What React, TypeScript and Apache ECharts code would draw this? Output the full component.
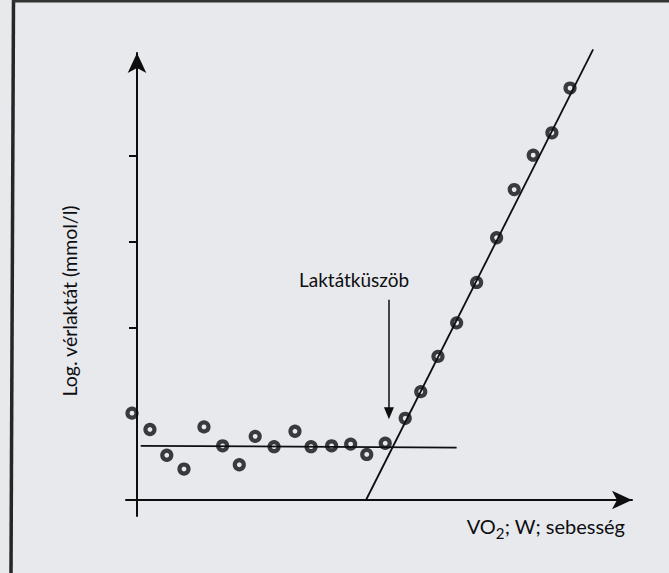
import React, { useEffect, useRef } from "react";
import * as echarts from "echarts";

// Measured points (x: arbitrary load units, y: log blood lactate units)
const pointX = [-0.27, 0.7, 1.61, 2.54, 3.62, 4.63, 5.53, 6.39, 7.41, 8.54, 9.41, 10.52, 11.55, 12.42, 13.42, 14.5, 15.34, 16.27, 17.28, 18.36, 19.44, 20.39, 21.42, 22.43, 23.41];
const pointY = [1.01, 0.82, 0.52, 0.36, 0.85, 0.63, 0.41, 0.74, 0.62, 0.8, 0.62, 0.63, 0.65, 0.53, 0.66, 0.95, 1.26, 1.67, 2.06, 2.53, 3.05, 3.61, 4.01, 4.27, 4.79];

// Fitted lines
const baselineFitX = [0.2, 17.28];
const baselineFitY = [0.63, 0.61];
const rampFitX = [12.38, 24.66];
const rampFitY = [0, 5.24];

// Threshold arrow
const thresholdX = 13.62;
const thresholdTopY = 2.33;
const thresholdTipY = 1.01;
const thresholdLabel = "Laktátküszöb";

// Axes
const yTicks = [2, 3, 4];
const xMin = -0.595;
const xMax = 26.76;
const yMin = -0.186;
const yMax = 5.198;
const yAxisName = "Log. vérlaktát (mmol/l)";
const xAxisNameMain = "VO";
const xAxisNameSub = "2";
const xAxisNameRest = "; W; sebesség";

const FONT = "Lato, 'Open Sans', sans-serif";
const INK = "#0e0e10";
const PAPER = "#e7e9ed";

export default function App() {
  const ref = useRef<HTMLDivElement>(null);
  useEffect(() => {
    if (!ref.current) return;
    const chart = echarts.init(ref.current, undefined, { renderer: "svg" });
    const points = pointX.map((x, i) => [x, pointY[i]]);
    const baseline = baselineFitX.map((x, i) => [x, baselineFitY[i]]);
    const ramp = rampFitX.map((x, i) => [x, rampFitY[i]]);
    chart.setOption({
      animation: false,
      backgroundColor: PAPER,
      grid: { left: 126, right: 37, top: 53, bottom: 57 },
      xAxis: {
        type: "value",
        min: xMin,
        max: xMax,
        axisLine: {
          onZero: true,
          symbol: ["none", "arrow"],
          symbolSize: [14, 20],
          lineStyle: { color: INK, width: 2 },
        },
        axisTick: { show: false },
        axisLabel: { show: false },
        splitLine: { show: false },
        name: `{a|${xAxisNameMain}}{s|${xAxisNameSub}}{a|${xAxisNameRest}}`,
        nameLocation: "end",
        nameGap: -7,
        nameTextStyle: {
          align: "right",
          verticalAlign: "top",
          padding: [11, 0, 0, 0],
          rich: {
            a: { fontSize: 20, fontFamily: FONT, color: INK },
            s: { fontSize: 15, fontFamily: FONT, color: INK, padding: [14, 0, 0, 0] },
          },
        },
      },
      yAxis: {
        type: "value",
        min: yMin,
        max: yMax,
        axisLine: {
          onZero: true,
          symbol: ["none", "arrow"],
          symbolSize: [14, 20],
          lineStyle: { color: INK, width: 2 },
        },
        axisTick: {
          show: true,
          length: 8,
          customValues: yTicks,
          lineStyle: { color: INK, width: 2 },
        },
        axisLabel: { show: false },
        splitLine: { show: false },
        name: yAxisName,
        nameLocation: "middle",
        nameRotate: 90,
        nameGap: 47,
        nameTextStyle: {
          fontSize: 19.5,
          fontFamily: FONT,
          color: INK,
          padding: [0, 33, 0, 0],
        },
      },
      series: [
        {
          type: "line",
          data: baseline,
          showSymbol: false,
          symbol: "none",
          clip: false,
          lineStyle: { color: INK, width: 1.8 },
          z: 2,
        },
        {
          type: "line",
          data: ramp,
          showSymbol: false,
          symbol: "none",
          clip: false,
          lineStyle: { color: INK, width: 1.8 },
          z: 2,
        },
        {
          type: "scatter",
          data: points,
          symbol: "circle",
          symbolSize: 9,
          clip: false,
          itemStyle: { color: "rgba(0,0,0,0)", borderColor: INK, borderWidth: 4.2 },
          z: 3,
          markLine: {
            silent: true,
            symbol: ["none", "triangle"],
            symbolSize: [10, 12],
            label: { show: false },
            lineStyle: { color: INK, width: 1.5, type: "solid" },
            data: [[{ coord: [thresholdX, thresholdTopY] }, { coord: [thresholdX, thresholdTipY] }]],
          },
        },
      ],
      graphic: [
        {
          type: "text",
          left: 299,
          top: 270,
          style: { text: thresholdLabel, font: `19px ${FONT}`, fill: INK },
        },
        {
          type: "line",
          shape: { x1: 13.5, y1: 0, x2: 11, y2: 573 },
          style: { stroke: "#262626", lineWidth: 3.5 },
        },
        {
          type: "rect",
          shape: { x: 12, y: 0, width: 657, height: 2.5 },
          style: { fill: "#333333" },
        },
      ],
    });
    return () => chart.dispose();
  }, []);
  return (
    <div
      ref={ref}
      style={{ position: "fixed", left: 0, top: 0, width: 669, height: 573 }}
    />
  );
}
